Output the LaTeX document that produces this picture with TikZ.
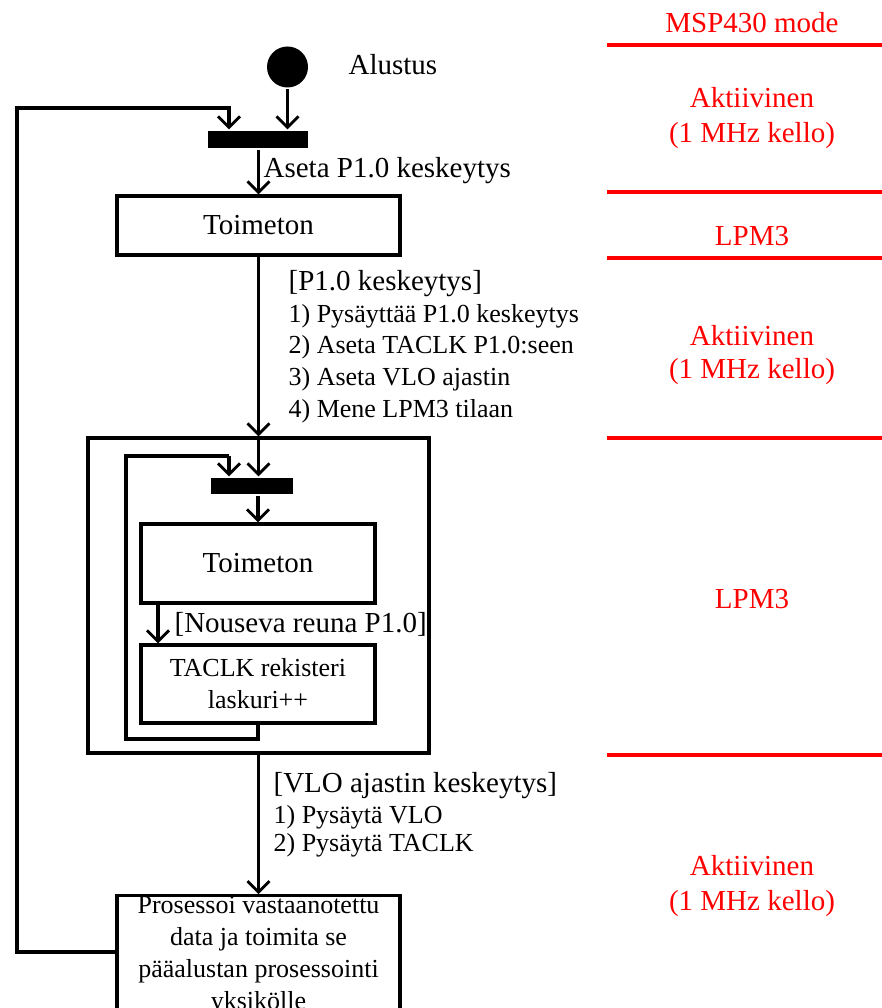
\documentclass[tikz,border=0pt]{standalone}
\usepackage{fontspec}
\setmainfont{Liberation Serif}
\usetikzlibrary{arrows.meta}
\begin{document}
\begin{tikzpicture}[x=1pt,y=-1pt,
  line width=3.2pt,
  arr/.style={-{Straight Barb[length=11pt,width=22pt,line width=2.8pt]}},
  big/.style={font=\fontsize{29}{34}\selectfont},
  small/.style={font=\fontsize{26}{32}\selectfont},
  lbl/.style={inner sep=0pt, anchor=base west},
  ctxt/.style={inner sep=0pt, anchor=base},
  redtxt/.style={inner sep=0pt, anchor=base, text=red, font=\fontsize{29}{34}\selectfont},
  redline/.style={draw=red, line width=3.2pt},
  barnode/.style={fill=black, draw=none, inner sep=0pt},
  boxnode/.style={draw, inner sep=0pt, align=center}
]
\useasboundingbox (0,0) rectangle (882,1008);

% swimlane labels
\node[redtxt] (m0) at (752,33) {MSP430 mode};
\node[redtxt] (m1a) at (752,108) {Aktiivinen};
\node[redtxt] (m1b) at (752,143) {(1 MHz kello)};
\node[redtxt] (m2) at (752,245) {LPM3};
\node[redtxt] (m3a) at (752,345) {Aktiivinen};
\node[redtxt] (m3b) at (752,378) {(1 MHz kello)};
\node[redtxt] (m4) at (752,608) {LPM3};
\node[redtxt] (m5a) at (752,875) {Aktiivinen};
\node[redtxt] (m5b) at (752,910) {(1 MHz kello)};
\foreach \yy in {45,192,258,438,755}{\draw[redline] (607,\yy) -- (882,\yy);}

% nodes
\node[circle, fill=black, inner sep=0pt, minimum size=41pt] (start) at (287.5,67) {};
\node[big, lbl] (alustus) at (347,75) {Alustus};
\node[barnode, minimum width=100pt, minimum height=17pt] (bar1) at (258,139.5) {};
\node[boxnode, big, minimum width=283pt, minimum height=59pt] (box1) at (258.5,225.5) {Toimeton};
\node[draw, inner sep=0pt, minimum width=341pt, minimum height=315pt] (outer) at (258.5,595.5) {};
\node[barnode, minimum width=82pt, minimum height=16pt] (bar2) at (252,486) {};
\node[boxnode, big, minimum width=234pt, minimum height=79pt] (box2) at (258,563.5) {Toimeton};
\node[boxnode, small, minimum width=234pt, minimum height=78pt] (box3) at (258,684) {TACLK rekisteri\\laskuri++};
\node[draw, inner sep=0pt, minimum width=283pt, minimum height=140pt, anchor=north] (box4) at (258.5,894) {};
\node[small, ctxt] (b4a) at (258.5,913) {Prosessoi vastaanotettu};
\node[small, ctxt] (b4b) at (258.5,945) {data ja toimita se};
\node[small, ctxt] (b4c) at (258.5,977) {pääalustan prosessointi};
\node[small, ctxt] (b4d) at (258.5,1009) {yksikölle};

% labels
\node[big, lbl] (aseta) at (262,178) {Aseta P1.0 keskeytys};
\node[big, lbl] (g1) at (287,290) {[P1.0 keskeytys]};
\node[small, lbl] (g1a) at (287,322) {1) Pysäyttää P1.0 keskeytys};
\node[small, lbl] (g1b) at (287,353) {2) Aseta TACLK P1.0:seen};
\node[small, lbl] (g1c) at (287,385) {3) Aseta VLO ajastin};
\node[small, lbl] (g1d) at (287,417) {4) Mene LPM3 tilaan};
\node[big, lbl] (nous) at (173,632) {[Nouseva reuna P1.0]};
\node[big, lbl] (g2) at (272,792) {[VLO ajastin keskeytys]};
\node[small, lbl] (g2a) at (272,823) {1) Pysäytä VLO};
\node[small, lbl] (g2b) at (272,851) {2) Pysäytä TACLK};

% connectors
\draw[arr] (start.south) -- (start.south |- bar1.north);
\coordinate (L1) at (17,952);
\coordinate (L2) at (229,108);
\draw[arr] (box4.west |- L1) -- (L1) |- (L2) -- (L2 |- bar1.north);
\draw[arr] (bar1.south -| box1.north) -- (box1.north);
\draw[arr] (box1.south) -- (outer.north);
\draw[arr] (outer.north) -- (outer.north |- bar2.north);
\draw[arr] (bar2.south -| box2.north) -- (box2.north);
\coordinate (C1) at (158,0);
\draw[arr] (box2.south -| C1) -- (box3.north -| C1);
\coordinate (I1) at (126,739);
\coordinate (I2) at (229,456);
\draw (box3.south) |- (I1) |- (I2);
\draw[arr] (I2) -- (I2 |- bar2.north);
\draw[arr] (outer.south) -- (box4.north);
\end{tikzpicture}
\end{document}
